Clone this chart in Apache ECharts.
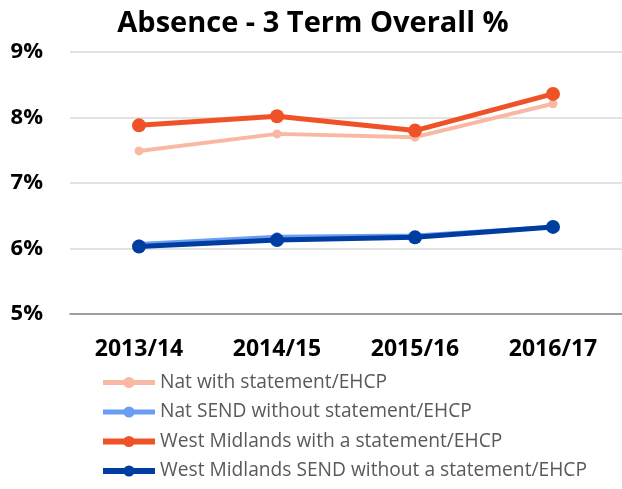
<!DOCTYPE html>
<html>
<head>
<meta charset="utf-8">
<script src="https://cdn.jsdelivr.net/npm/echarts@6/dist/echarts.min.js"></script>
<style>
html, body { margin: 0; padding: 0; background: #fff; }
#chart { width: 622px; height: 489px; }
</style>
</head>
<body>
<div id="chart"></div>
<script>
// years along the x axis
var years = ['2013/14', '2014/15', '2015/16', '2016/17'];
// absence rates (%)
var natWith = [7.49, 7.75, 7.70, 8.21];
var natSend = [6.07, 6.18, 6.20, 6.33];
var wmWith = [7.88, 8.02, 7.80, 8.36];
var wmSend = [6.03, 6.13, 6.17, 6.33];
var seriesNames = [
  'Nat with statement/EHCP',
  'Nat SEND without statement/EHCP',
  'West Midlands with a statement/EHCP',
  'West Midlands SEND without a statement/EHCP'
];

var font = '"Open Sans", "Noto Sans", sans-serif';
var myChart = echarts.init(document.getElementById('chart'));

function lineSeries(name, data, color, width, size, z) {
  return {
    name: name,
    type: 'line',
    data: data,
    symbol: 'circle',
    symbolSize: size,
    z: z,
    lineStyle: { color: color, width: width },
    itemStyle: { color: color },
    emphasis: { disabled: true }
  };
}

var option = {
  animation: false,
  title: {
    text: 'Absence - 3 Term Overall %',
    left: 308,
    textAlign: 'center',
    top: 4,
    textStyle: { fontFamily: font, fontSize: 29, fontWeight: 'bold', color: '#000' }
  },
  legend: {
    orient: 'vertical',
    left: 100,
    top: 373,
    height: 116,
    padding: 0,
    itemWidth: 52,
    itemHeight: 14,
    itemGap: 10.5,
    data: seriesNames.map(function (n, i) {
      return { name: n, lineStyle: { width: i < 2 ? 5 : 6 } };
    }),
    textStyle: { fontFamily: font, fontSize: 19.2, color: '#595959' }
  },
  grid: { left: 70, top: 52, width: 557, height: 262 },
  xAxis: {
    type: 'category',
    data: years,
    boundaryGap: true,
    axisLine: { lineStyle: { color: '#898989', width: 1.5 } },
    axisTick: { show: false },
    axisLabel: { margin: 24, fontFamily: font, fontSize: 23, fontWeight: 'bold', color: '#000' }
  },
  yAxis: {
    type: 'value',
    min: 5,
    max: 9,
    interval: 1,
    axisLine: { show: false },
    axisTick: { show: false },
    splitLine: { lineStyle: { color: '#d9d9d9', width: 1.5 } },
    axisLabel: {
      formatter: '{value}%',
      margin: 27,
      fontFamily: font, fontSize: 22, fontWeight: 'bold', color: '#000'
    }
  },
  series: [
    lineSeries(seriesNames[0], natWith, '#F8B8A3', 4, 9, 2),
    lineSeries(seriesNames[1], natSend, '#6A9EF3', 4, 9, 2),
    lineSeries(seriesNames[2], wmWith, '#F05228', 5, 14, 3),
    lineSeries(seriesNames[3], wmSend, '#003DA0', 5, 14, 3)
  ]
};

myChart.setOption(option);
</script>
</body>
</html>
